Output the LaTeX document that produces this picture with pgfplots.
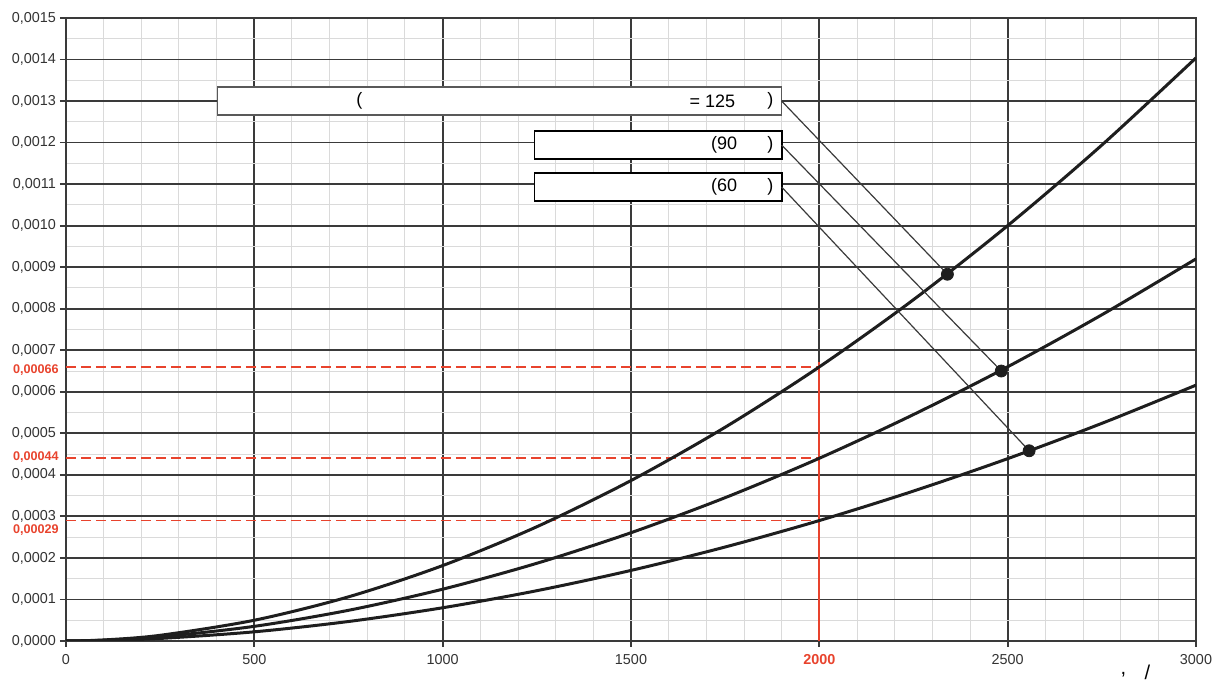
\documentclass[border=0pt]{standalone}
\usepackage{pgfplots}
\pgfplotsset{compat=1.18}
\usepackage{fontspec}
\setmainfont{Liberation Sans}
\definecolor{gridmaj}{HTML}{3A3A3A}
\definecolor{gridmin}{HTML}{DADADA}
\definecolor{redl}{HTML}{E8432D}
\definecolor{curvec}{HTML}{1E1E1E}
\definecolor{ticktext}{HTML}{333333}
\begin{document}
\begin{tikzpicture}
\path[use as bounding box] (-33pt,-21.5pt) rectangle (578.5pt,320.5pt);
\begin{axis}[
  at={(0,0)}, anchor=south west,
  scale only axis, width=565pt, height=311.5pt,
  xmin=0, xmax=3000, ymin=0, ymax=0.0015,
  xtick={0,500,1000,1500,2000,2500,3000},
  xticklabels={0,500,1000,1500,\textcolor{redl}{\bfseries 2000},2500,3000},
  ytick={0,0.0001,0.0002,0.0003,0.0004,0.0005,0.0006,0.0007,0.0008,0.0009,0.0010,0.0011,0.0012,0.0013,0.0014,0.0015},
  scaled y ticks=false,
  y tick label style={/pgf/number format/.cd, fixed, fixed zerofill, precision=4, use comma, assume math mode=true, /tikz/.cd, xshift=1.5pt},
  minor x tick num=4, minor y tick num=1,
  grid=both,
  tick pos=left,
  major grid style={gridmaj, line width=0.9pt},
  minor grid style={gridmin, line width=0.5pt},
  tick align=outside, major tick length=3pt, minor tick length=0pt,
  tick style={gridmaj, line width=0.9pt},
  axis line style={gridmaj, line width=1pt},
  ticklabel style={font=\fontsize{7.2}{8}\selectfont, text=ticktext},
  clip mode=individual,
]
% red reference lines
\draw[redl, line width=0.75pt, dash pattern=on 5pt off 2.5pt] (axis cs:0,0.00066) -- (axis cs:2000,0.00066);
\draw[redl, line width=0.75pt, dash pattern=on 5pt off 2.5pt] (axis cs:0,0.00044) -- (axis cs:2000,0.00044);
\draw[redl, line width=0.75pt, dash pattern=on 5pt off 2.5pt] (axis cs:0,0.00029) -- (axis cs:2000,0.00029);
\draw[redl, line width=0.9pt] (axis cs:2000,0) -- (axis cs:2000,0.000672);
\node[anchor=east, text=redl, font=\bfseries\fontsize{6.3}{7}\selectfont, inner sep=0pt] at ([xshift=-3.5pt,yshift=-1.5pt]axis cs:0,0.00066) {0,00066};
\node[anchor=east, text=redl, font=\bfseries\fontsize{6.3}{7}\selectfont, inner sep=0pt] at ([xshift=-3.5pt,yshift=0.5pt]axis cs:0,0.00044) {0,00044};
\node[anchor=east, text=redl, font=\bfseries\fontsize{6.3}{7}\selectfont, inner sep=0pt] at ([xshift=-3.5pt,yshift=-5pt]axis cs:0,0.00029) {0,00029};
% curves
\addplot[curvec, line width=1.5pt, smooth] coordinates {
(0,0) (100,0.0000025) (250,0.0000137) (500,0.0000500) (750,0.0001063) (1000,0.0001816) (1250,0.0002751) (1500,0.0003863) (1750,0.0005147) (2000,0.00066) (2250,0.0008218) (2500,0.001000) (2750,0.001194) (3000,0.001404)};
\addplot[curvec, line width=1.5pt, smooth] coordinates {
(0,0) (100,0.0000019) (250,0.0000100) (500,0.0000353) (750,0.0000739) (1000,0.0001247) (1250,0.0001871) (1500,0.0002607) (1750,0.0003451) (2000,0.00044) (2250,0.0005452) (2500,0.0006602) (2750,0.0007854) (3000,0.000920)};
\addplot[curvec, line width=1.5pt, smooth] coordinates {
(0,0) (100,0.0000011) (250,0.0000061) (500,0.0000221) (750,0.0000469) (1000,0.0000800) (1250,0.0001211) (1500,0.0001699) (1750,0.0002263) (2000,0.00029) (2250,0.000361) (2500,0.000439) (2750,0.000524) (3000,0.000616)};
% label boxes
\draw[fill=white, draw=gray!70!black, line width=0.8pt] (axis cs:402,0.001334) rectangle (axis cs:1900,0.001266);
\draw[fill=white, draw=black, line width=0.9pt] (axis cs:1244,0.001228) rectangle (axis cs:1900,0.001160);
\draw[fill=white, draw=black, line width=0.9pt] (axis cs:1244,0.001127) rectangle (axis cs:1900,0.001059);
\node[font=\fontsize{9}{10}\selectfont] at (axis cs:779,0.0013) {(};
\node[font=\fontsize{9}{10}\selectfont] at (axis cs:1716,0.0013) {= 125};
\node[font=\fontsize{9}{10}\selectfont] at (axis cs:1870,0.0013) {)};
\node[font=\fontsize{9}{10}\selectfont] at (axis cs:1747,0.001194) {(90};
\node[font=\fontsize{9}{10}\selectfont] at (axis cs:1870,0.001194) {)};
\node[font=\fontsize{9}{10}\selectfont] at (axis cs:1747,0.001093) {(60};
\node[font=\fontsize{9}{10}\selectfont] at (axis cs:1870,0.001093) {)};
% leaders
\draw[gridmaj, line width=0.6pt] (axis cs:1900,0.0013) -- (axis cs:2340,0.000883);
\draw[gridmaj, line width=0.6pt] (axis cs:1900,0.001194) -- (axis cs:2483,0.00065);
\draw[gridmaj, line width=0.6pt] (axis cs:1900,0.001093) -- (axis cs:2557,0.000458);
\addplot[only marks, mark=*, mark size=3pt, curvec] coordinates {(2340,0.000883) (2483,0.00065) (2557,0.000458)};
\end{axis}
\node[font=\fontsize{10}{11}\selectfont] at (528.75pt,-17pt) {,};
\node[font=\fontsize{10}{11}\selectfont] at (540.75pt,-15.5pt) {/};
\end{tikzpicture}
\end{document}
